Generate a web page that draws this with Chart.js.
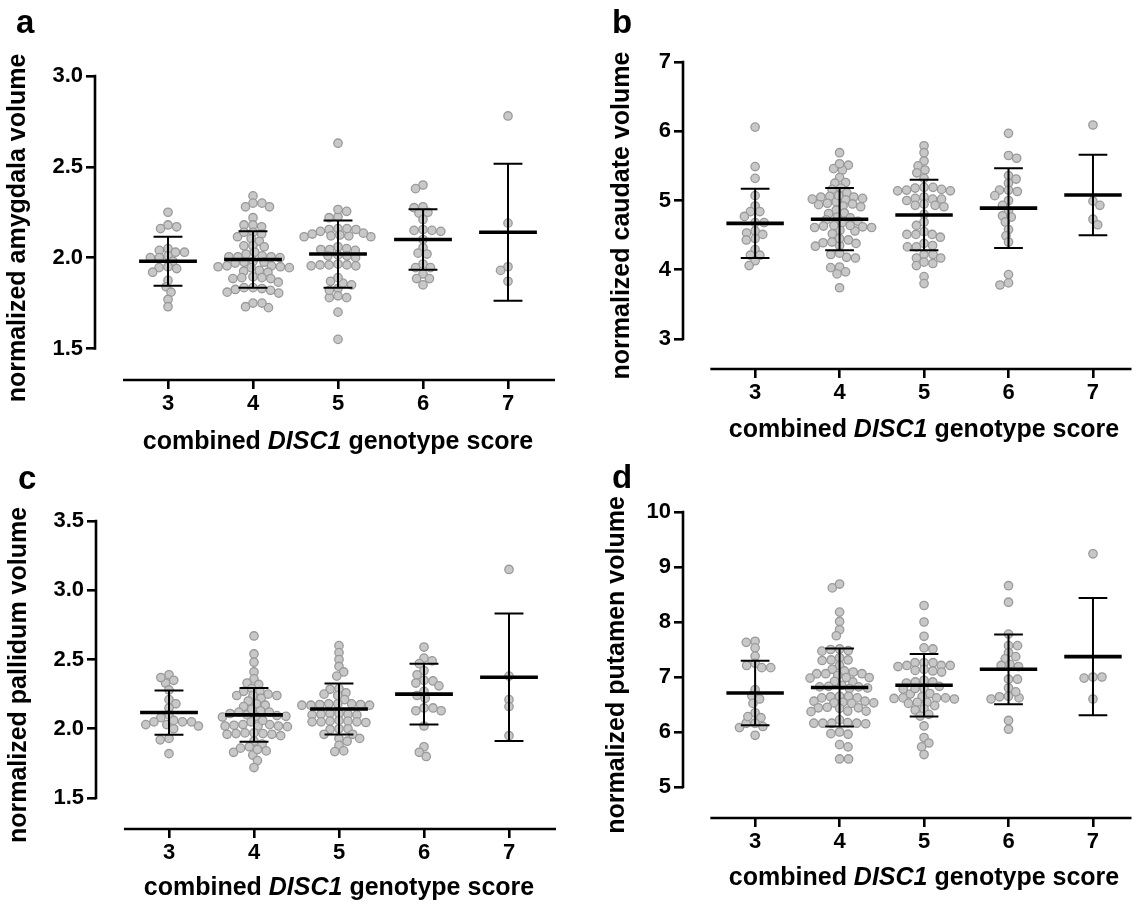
<!DOCTYPE html>
<html>
<head>
<meta charset="utf-8">
<script src="https://cdn.jsdelivr.net/npm/chart.js@4.4.1/dist/chart.umd.min.js"></script>
<style>
  html, body { margin: 0; padding: 0; background: #fff; }
  #fig { position: relative; width: 1137px; height: 906px; overflow: hidden;
         font-family: "Liberation Sans", Arial, Helvetica, sans-serif; color: #000; }
  #fig canvas { position: absolute; left: 0; top: 0; }
  .letter { position: absolute; font-weight: bold; font-size: 33px; line-height: 1; }
  .xtitle { position: absolute; font-weight: bold; font-size: 25px; white-space: nowrap;
            transform: translate(-50%, -50%); }
</style>
</head>
<body>
<div id="fig">
  <canvas id="ca" width="1137" height="906"></canvas>
  <canvas id="cb" width="1137" height="906"></canvas>
  <canvas id="cc" width="1137" height="906"></canvas>
  <canvas id="cd" width="1137" height="906"></canvas>
  <div class="letter" style="left:16px;top:5px">a</div>
  <div class="letter" style="left:612px;top:5px">b</div>
  <div class="letter" style="left:18px;top:461px">c</div>
  <div class="letter" style="left:612px;top:460px">d</div>
  <div class="xtitle" id="ta">combined <i>DISC1</i> genotype score</div>
  <div class="xtitle" id="tb">combined <i>DISC1</i> genotype score</div>
  <div class="xtitle" id="tc">combined <i>DISC1</i> genotype score</div>
  <div class="xtitle" id="td">combined <i>DISC1</i> genotype score</div>
</div>
<script>
Chart.defaults.font.family = '"Liberation Sans", Arial, Helvetica, sans-serif';
Chart.defaults.font.weight = 'bold';
Chart.defaults.color = '#000';

const scores = [3, 4, 5, 6, 7];

// a - amygdala, one list per genotype score
const amygdala = [
  [2.25, 2.18, 2.16, 2.17, 2.05, 2.03, 2.01, 2.03, 2.04, 1.98, 2.00, 2.00, 1.95, 1.94, 1.945, 1.92, 1.875, 1.84, 1.81, 1.77, 1.73],
  [2.34, 2.30, 2.28, 2.28, 2.30, 2.22, 2.18, 2.17, 2.18, 2.14, 2.115, 2.13, 2.14, 2.09, 2.105, 2.065, 2.06, 2.065, 2.03,
   2.01, 2.005, 2.005, 2.00, 2.005, 2.02, 1.98, 1.975, 1.97, 1.975, 1.955, 1.95, 1.945, 1.95, 1.945, 1.955, 1.92, 1.925, 1.93,
   1.89, 1.885, 1.885, 1.89, 1.895, 1.865, 1.835, 1.825, 1.835, 1.82, 1.83, 1.81, 1.805, 1.75, 1.725, 1.73, 1.75],
  [2.63, 2.255, 2.22, 2.225, 2.265, 2.16, 2.155, 2.145, 2.13, 2.12, 2.115, 2.115, 2.12, 2.125, 2.135, 2.155, 2.16, 2.06,
   2.045, 2.04, 2.045, 2.05, 2.01, 2.01, 2.015, 2.00, 1.96, 1.955, 1.96, 1.965, 1.96, 1.955, 1.87, 1.85, 1.83, 1.86, 1.89,
   1.79, 1.78, 1.78, 1.82, 1.70, 1.55],
  [2.40, 2.38, 2.28, 2.275, 2.25, 2.245, 2.21, 2.155, 2.15, 2.15, 2.145, 2.10, 2.055, 2.025, 2.02, 1.965, 1.945, 1.945,
   1.91, 1.885, 1.885, 1.85],
  [2.78, 2.19, 1.95, 1.93, 1.87]
];
const amygdalaMean = [1.98, 1.99, 2.02, 2.10, 2.14];
const amygdalaSD = [0.135, 0.155, 0.185, 0.166, 0.377];
const amygdalaTicks = [1.5, 2.0, 2.5, 3.0];

// b - caudate
const caudate = [
  [6.06, 5.49, 5.32, 5.07, 4.92, 4.84, 4.84, 4.77, 4.68, 4.68, 4.56, 4.51, 4.53, 4.43, 4.45, 4.29, 4.21, 4.21, 4.13, 4.06],
  [5.69, 5.51, 5.44, 5.46, 5.53, 5.33, 5.26, 5.25, 5.16, 5.18, 5.11, 5.06, 5.03, 5.01, 4.98, 4.96, 5.02, 5.05, 5.05, 5.07,
   4.94, 4.91, 4.86, 4.92, 4.95, 4.81, 4.82, 4.76, 4.75, 4.72, 4.70, 4.68, 4.63, 4.61, 4.57, 4.52, 4.56, 4.61, 4.64, 4.62,
   4.64, 4.43, 4.39, 4.35, 4.34, 4.38, 4.40, 4.45, 4.22, 4.17, 4.18, 4.24, 4.04, 3.97, 3.94, 4.03, 3.74],
  [5.79, 5.69, 5.57, 5.50, 5.40, 5.44, 5.32, 5.19, 5.18, 5.15, 5.14, 5.14, 5.16, 5.19, 5.03, 5.02, 5.00, 5.02, 5.05, 4.95,
   4.93, 4.91, 4.93, 4.80, 4.69, 4.64, 4.51, 4.51, 4.55, 4.51, 4.47, 4.33, 4.35, 4.38, 4.33, 4.22, 4.22, 4.17, 4.09, 4.06,
   4.11, 4.17, 3.90, 3.80],
  [5.97, 5.61, 5.65, 5.36, 5.31, 5.25, 5.15, 5.13, 5.15, 5.07, 5.00, 4.93, 4.85, 4.76, 4.78, 4.69, 4.58, 4.49, 4.40, 3.93,
   3.78, 3.81],
  [6.09, 4.99, 4.93, 4.73, 4.65]
];
const caudateMean = [4.67, 4.73, 4.79, 4.89, 5.08];
const caudateSD = [0.50, 0.45, 0.51, 0.575, 0.58];
const caudateTicks = [3, 4, 5, 6, 7];

// c - pallidum
const pallidum = [
  [2.39, 2.33, 2.35, 2.37, 2.28, 2.21, 2.18, 2.15, 2.10, 2.08, 2.05, 2.05, 2.03, 2.00, 2.02, 2.03, 2.05, 2.06, 1.92, 1.93, 1.82],
  [2.67, 2.54, 2.48, 2.41, 2.36, 2.33, 2.32, 2.29, 2.27, 2.25, 2.27, 2.24, 2.24, 2.24, 2.22, 2.20, 2.17, 2.18, 2.16, 2.13,
   2.12, 2.10, 2.11, 2.12, 2.14, 2.09, 2.09, 2.085, 2.095, 2.02, 2.03, 2.02, 2.025, 2.015, 2.02, 2.03, 1.97, 1.965, 1.96,
   1.97, 1.965, 1.96, 1.91, 1.89, 1.87, 1.83, 1.81, 1.84, 1.77, 1.72, 1.85, 1.86, 1.95, 2.05, 2.06],
  [2.60, 2.55, 2.50, 2.45, 2.41, 2.38, 2.26, 2.29, 2.285, 2.25, 2.24, 2.21, 2.17, 2.18, 2.175, 2.17, 2.18, 2.175, 2.17,
   2.18, 2.10, 2.105, 2.11, 2.10, 2.105, 2.11, 2.05, 2.055, 2.06, 2.05, 2.045, 2.055, 2.05, 2.00, 1.995, 2.00, 1.96,
   1.93, 1.91, 1.88, 1.93, 1.96, 1.84, 1.835],
  [2.59, 2.49, 2.51, 2.42, 2.47, 2.39, 2.35, 2.345, 2.33, 2.31, 2.27, 2.24, 2.22, 2.15, 2.13, 2.13, 2.15, 2.02, 1.87,
   1.83, 1.80],
  [3.15, 2.38, 2.21, 2.16, 1.95]
];
const pallidumMean = [2.117, 2.10, 2.143, 2.25, 2.372];
const pallidumSD = [0.16, 0.194, 0.184, 0.22, 0.46];
const pallidumTicks = [1.5, 2.0, 2.5, 3.0, 3.5];

// d - putamen
const putamen = [
  [7.65, 7.63, 7.53, 7.38, 7.25, 7.17, 7.17, 7.21, 6.77, 6.60, 6.66, 6.52, 6.35, 6.26, 6.16, 6.16, 6.08, 6.28, 6.10, 5.94],
  [8.62, 8.69, 8.18, 8.01, 7.86, 7.75, 7.51, 7.47, 7.50, 7.48, 7.35, 7.31, 7.31, 7.30, 7.21, 7.14, 7.06, 7.06, 7.11, 7.06,
   7.09, 6.91, 6.99, 6.99, 6.98, 7.03, 6.92, 6.80, 6.82, 6.79, 6.83, 6.82, 6.85, 6.65, 6.62, 6.62, 6.65, 6.64, 6.56, 6.53,
   6.53, 6.54, 6.52, 6.56, 6.45, 6.44, 6.44, 6.43, 6.38, 6.38, 6.37, 6.16, 6.16, 6.15, 6.16, 6.17, 6.16, 6.22, 6.00, 5.96,
   5.97, 5.77, 5.73, 5.51, 5.51],
  [8.30, 8.00, 7.74, 7.51, 7.53, 7.26, 7.21, 7.26, 7.19, 7.21, 7.26, 7.21, 7.09, 7.14, 7.12, 7.11, 6.91, 6.94, 6.89, 6.91,
   6.69, 6.83, 6.79, 6.79, 6.78, 6.70, 6.60, 6.62, 6.62, 6.61, 6.64, 6.62, 6.48, 6.54, 6.54, 6.52, 6.40, 6.42, 6.29, 6.32,
   6.11, 5.90, 5.80, 5.73, 5.59],
  [8.66, 8.36, 7.78, 7.57, 7.57, 7.44, 7.37, 7.33, 7.21, 7.19, 7.23, 6.96, 6.96, 6.80, 6.65, 6.60, 6.62, 6.64, 6.73, 6.21, 6.05],
  [9.24, 7.00, 6.98, 7.00, 6.60]
];
const putamenMean = [6.71, 6.81, 6.85, 7.14, 7.37];
const putamenSD = [0.585, 0.71, 0.57, 0.635, 1.065];
const putamenTicks = [5, 6, 7, 8, 9, 10];

// where each panel sits on the page (pixels)
const panels = [
  { canvas: 'ca', title: 'ta', titleY: 440, label: 'normalized amygdala volume', groups: amygdala,
    mean: amygdalaMean, sd: amygdalaSD, ticks: amygdalaTicks, dec: 1,
    padLeft: 3, axis: 95, top: 76, tickLow: 348.5, bottom: 380, cat3: 168, step: 85, right: 555 },
  { canvas: 'cb', title: 'tb', titleY: 428, label: 'normalized caudate volume', groups: caudate,
    mean: caudateMean, sd: caudateSD, ticks: caudateTicks, dec: 0,
    padLeft: 607, axis: 683, top: 62, tickLow: 339, bottom: 369, cat3: 756, step: 85.5, right: 1137 },
  { canvas: 'cc', title: 'tc', titleY: 886, label: 'normalized pallidum volume', groups: pallidum,
    mean: pallidumMean, sd: pallidumSD, ticks: pallidumTicks, dec: 1,
    padLeft: 4, axis: 96, top: 521, tickLow: 798, bottom: 829, cat3: 169, step: 85, right: 556 },
  { canvas: 'cd', title: 'td', titleY: 876, label: 'normalized putamen volume', groups: putamen,
    mean: putamenMean, sd: putamenSD, ticks: putamenTicks, dec: 0,
    padLeft: 602, axis: 683, top: 512, tickLow: 787, bottom: 818, cat3: 756, step: 85.5, right: 1137 }
];

const X_H = 40;      // height kept for the x tick area
const DOT_W = 9;     // side-by-side spacing of dots
const DOT_H = 6.5;   // dots this far apart vertically may share a column

// beeswarm: each dot goes as close to the centre as it can, rows may overlap a little like in Prism
function swarm(values, yScale, ppu) {
  const pts = values.map((v, i) => ({ i, y: yScale.getPixelForValue(v), dx: 0 }));
  const order = pts.slice().sort((a, b) => a.y - b.y);
  const placed = [];
  const clear = (c, p) => placed.every(q => ((q.dx - c) / DOT_W) ** 2 + ((q.y - p.y) / DOT_H) ** 2 >= 0.999);
  order.forEach((p, n) => {
    const cands = [0];
    placed.forEach(q => {
      const dy = Math.abs(p.y - q.y) / DOT_H;
      if (dy < 1) {
        const h = DOT_W * Math.sqrt(1 - dy * dy);
        cands.push(q.dx + h, q.dx - h);
      }
    });
    cands.sort((a, b) => (Math.abs(a) - Math.abs(b)) || (n % 2 ? a - b : b - a));
    for (const c of cands) {
      if (clear(c, p)) { p.dx = c; break; }
    }
    placed.push(p);
  });
  return pts.map(p => p.dx / ppu);
}

function decor(p) {
  return {
    id: 'decor',
    afterDatasetsDraw(chart) {
      const { ctx, chartArea, scales: { x, y } } = chart;
      ctx.save();
      ctx.strokeStyle = '#000';
      ctx.lineWidth = 2.6;
      ctx.beginPath();
      ctx.moveTo(chartArea.left, y.getPixelForValue(p.ticks[0]) + 1.3);
      ctx.lineTo(chartArea.left, y.getPixelForValue(p.ticks[p.ticks.length - 1]) - 1.3);
      ctx.moveTo(x.getPixelForValue(scores[0] - 0.53), chartArea.bottom);
      ctx.lineTo(chartArea.right, chartArea.bottom);
      ctx.stroke();

      scores.forEach((s, k) => {
        const m = p.mean[k], sd = p.sd[k];
        const yt = y.getPixelForValue(m + sd), yb = y.getPixelForValue(m - sd), ym = y.getPixelForValue(m);
        const xc = x.getPixelForValue(s);
        const c0 = x.getPixelForValue(s - 0.17), c1 = x.getPixelForValue(s + 0.17);
        ctx.lineWidth = 2;
        ctx.beginPath();
        ctx.moveTo(xc, yt); ctx.lineTo(xc, yb);
        ctx.moveTo(c0, yt); ctx.lineTo(c1, yt);
        ctx.moveTo(c0, yb); ctx.lineTo(c1, yb);
        ctx.stroke();
        ctx.lineWidth = 3.6;
        ctx.beginPath();
        ctx.moveTo(x.getPixelForValue(s - 0.34), ym);
        ctx.lineTo(x.getPixelForValue(s + 0.34), ym);
        ctx.stroke();
      });
      ctx.restore();
    }
  };
}

panels.forEach(p => {
  const tMin = p.ticks[0], tMax = p.ticks[p.ticks.length - 1];
  const yppu = (p.tickLow - p.top) / (tMax - tMin);
  const yMin = tMin - (p.bottom - p.tickLow) / yppu;
  const xMin = 3 - (p.cat3 - p.axis) / p.step;
  const xMax = 3 + (p.right - p.cat3) / p.step;

  const chart = new Chart(document.getElementById(p.canvas), {
    type: 'scatter',
    data: {
      datasets: p.groups.map((vals, k) => ({
        data: vals.map(v => ({ x: scores[k], y: v })),
        pointRadius: 4.2,
        pointHoverRadius: 4.2,
        borderWidth: 1.3,
        backgroundColor: '#c8c8c8',
        borderColor: '#9a9a9a',
        clip: false
      }))
    },
    options: {
      responsive: false,
      animation: false,
      events: [],
      layout: { padding: { left: p.padLeft, top: p.top, right: 1137 - p.right, bottom: 906 - p.bottom - X_H } },
      plugins: { legend: { display: false }, tooltip: { enabled: false } },
      scales: {
        x: {
          type: 'linear', min: xMin, max: xMax,
          afterBuildTicks: s => { s.ticks = scores.map(v => ({ value: v })); },
          afterFit: s => { s.height = X_H; },
          border: { display: false },
          grid: { display: true, drawOnChartArea: false, drawTicks: true, tickLength: 9,
                  tickWidth: 2.6, tickColor: '#000', color: '#000', lineWidth: 2.6 },
          ticks: { font: { size: 22, weight: 'bold' }, padding: 2, color: '#000',
                   callback: v => String(v) }
        },
        y: {
          type: 'linear', min: yMin, max: tMax,
          afterBuildTicks: s => { s.ticks = p.ticks.map(v => ({ value: v })); },
          afterFit: s => { s.width = p.axis - p.padLeft; },
          border: { display: false },
          grid: { display: true, drawOnChartArea: false, drawTicks: true, tickLength: 9,
                  tickWidth: 2.6, tickColor: '#000', color: '#000', lineWidth: 2.6 },
          ticks: { font: { size: 22, weight: 'bold' }, padding: 3, color: '#000',
                   callback: v => Number(v).toFixed(p.dec) },
          title: { display: true, text: p.label, color: '#000', padding: 0,
                   font: { size: 25, weight: 'bold', lineHeight: 1.2 } }
        }
      }
    },
    plugins: [decor(p)]
  });

  const xs = chart.scales.x, ys = chart.scales.y;
  const ppu = xs.getPixelForValue(4) - xs.getPixelForValue(3);
  chart.data.datasets.forEach((ds, k) => {
    const offs = swarm(p.groups[k], ys, ppu);
    ds.data = p.groups[k].map((v, i) => ({ x: scores[k] + offs[i], y: v }));
  });
  chart.update('none');

  const t = document.getElementById(p.title);
  t.style.left = xs.getPixelForValue(5) + 'px';
  t.style.top = p.titleY + 'px';
});
</script>
</body>
</html>
